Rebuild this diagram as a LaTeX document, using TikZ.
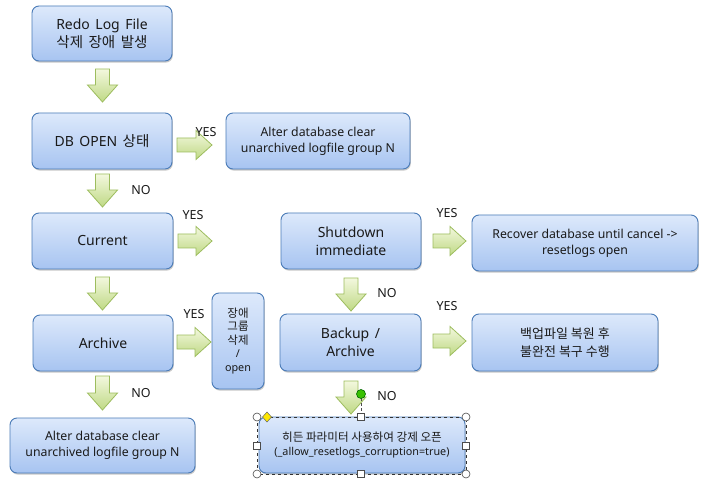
\documentclass[tikz,border=0pt]{standalone}
\usepackage{fontspec}
\setmainfont{Noto Sans}
\newfontfamily\kr{Noto Sans CJK KR}
\usetikzlibrary{shadows}
\definecolor{boxtop}{HTML}{DDE9FB}
\definecolor{boxbot}{HTML}{A7C4F1}
\definecolor{boxline}{HTML}{4A7BB7}
\definecolor{arrtop}{HTML}{F3F8DE}
\definecolor{arrbot}{HTML}{BFD985}
\definecolor{arrline}{HTML}{9DBD5E}
\definecolor{txt}{HTML}{1A1A1A}
\tikzset{
  fbox/.style={draw=boxline, line width=0.9pt, rounded corners=7pt,
    top color=boxtop, bottom color=boxbot, align=center, text=txt,
    inner sep=0pt,
    drop shadow={shadow xshift=0.8pt, shadow yshift=-1.6pt, opacity=0.3, fill=black!70}},
  bigtext/.style={font=\fontsize{14}{18}\selectfont, execute at begin node={\spaceskip=5.5pt\relax}},
  smalltext/.style={font=\fontsize{12.3}{16}\selectfont},
  blockarrow/.style={draw=arrline, line width=0.8pt, top color=arrtop, bottom color=arrbot, line join=miter},
  lbl/.style={font=\fontsize{12.5}{15}\selectfont, text=txt, inner sep=0pt},
  handle/.style={draw=black!70, fill=white, line width=0.6pt}
}
% down block arrow: x centre, y top, y bottom
\newcommand\dnarrow[3]{%
  \path[blockarrow] (#1-7,#2) -- (#1+7,#2) -- (#1+7,#3-17) -- (#1+15,#3-17) -- (#1,#3)
    -- (#1-15,#3-17) -- (#1-7,#3-17) -- cycle;}
% right block arrow: x left, x right, y centre
\newcommand\rtarrow[3]{%
  \path[blockarrow] (#1,#3-7) -- (#2-16,#3-7) -- (#2-16,#3-14.5) -- (#2,#3) -- (#2-16,#3+14.5)
    -- (#2-16,#3+7) -- (#1,#3+7) -- cycle;}
\begin{document}
\begin{tikzpicture}[x=1pt,y=-1pt]
\useasboundingbox[fill=white] (0,0) rectangle (720,486);

% boxes
\node[fbox, bigtext, minimum width=140pt, minimum height=55pt] (b1) at (102,33.5) {Redo Log File\\{\kr\fontsize{14.5}{18}\selectfont 삭제 장애 발생}};
\node[fbox, bigtext, minimum width=140pt, minimum height=56pt] (b2) at (102,141) {DB OPEN {\kr\fontsize{14.5}{18}\selectfont 상태}};
\node[fbox, smalltext, minimum width=184pt, minimum height=56pt] (b3) at (318,141) {Alter database clear\\unarchived logfile group N};
\node[fbox, bigtext, minimum width=141pt, minimum height=56pt] (b4) at (102.5,241) {Current};
\node[fbox, bigtext, minimum width=140pt, minimum height=56pt] (b5) at (351,241) {Shutdown\\immediate};
\node[fbox, smalltext, minimum width=226pt, minimum height=56pt] (b6) at (585,243) {Recover database until cancel ->\\resetlogs open};
\node[fbox, bigtext, minimum width=141pt, minimum height=57pt] (b7) at (350.5,342.5) {Backup /\\Archive};
\node[fbox, font=\kr\fontsize{13}{18}\selectfont, minimum width=186pt, minimum height=57pt] (b8) at (565,342.5) {백업파일 복원 후\\불완전 복구 수행};
\node[fbox, bigtext, minimum width=140pt, minimum height=56pt] (b9) at (103,343) {Archive};
\node[fbox, font=\fontsize{10.8}{13.5}\selectfont, minimum width=52pt, minimum height=96pt] (b10) at (238,341) {{\kr\fontsize{11.5}{13.5}\selectfont 장애}\\{\kr\fontsize{11.5}{13.5}\selectfont 그룹}\\{\kr\fontsize{11.5}{13.5}\selectfont 삭제}\\/\\open};
\node[fbox, smalltext, minimum width=185pt, minimum height=55pt] (b11) at (102.5,445.5) {Alter database clear\\unarchived logfile group N};
\node[fbox, font=\fontsize{10.8}{13.5}\selectfont, minimum width=206pt, minimum height=56pt] (b12) at (362,445) {{\kr\fontsize{11.6}{13.5}\selectfont 히든 파라미터 사용하여 강제 오픈}\\(\_allow\_resetlogs\_corruption=true)};

% block arrows
\dnarrow{102.5}{69}{102}
\dnarrow{102.5}{174}{207}
\dnarrow{102.5}{277}{310}
\dnarrow{102.5}{376}{410}
\dnarrow{351}{278}{311}
\dnarrow{351}{381}{414}
\rtarrow{177}{212}{145}
\rtarrow{178}{212}{241}
\rtarrow{177}{211}{342}
\rtarrow{433}{466}{241}
\rtarrow{433}{466}{341}

% labels
\node[lbl] (y1) at (206,132) {YES};
\node[lbl] (n1) at (141,190) {NO};
\node[lbl] (y2) at (193,215) {YES};
\node[lbl] (y3) at (194,314) {YES};
\node[lbl] (n2) at (141,393) {NO};
\node[lbl] (y4) at (447,213) {YES};
\node[lbl] (y5) at (447,306) {YES};
\node[lbl] (n3) at (387,293) {NO};
\node[lbl] (n4) at (387,396) {NO};

% selection frame around the last box
\draw[black!80, dashed, line width=0.7pt] (257,417) rectangle (466,474);
\draw[black!70, densely dashed, line width=0.6pt] (361,398) -- (361,414);
\foreach \p in {(257,417),(466,417),(257,474),(466,474)}
  \path[handle] \p circle (4);
\foreach \p in {(361,417),(361,474),(257,445.5),(466,445.5)}
  \path[handle] \p ++(-3.5,-3.5) rectangle ++(7,7);
\path[draw=black!60, fill=yellow!90!orange, line width=0.5pt] (267,412) -- (271.5,417) -- (267,422) -- (262.5,417) -- cycle;
\path[draw=green!40!black, fill=green!65!black!70!lime, line width=0.6pt] (361,394) circle (4.5);
\end{tikzpicture}
\end{document}
